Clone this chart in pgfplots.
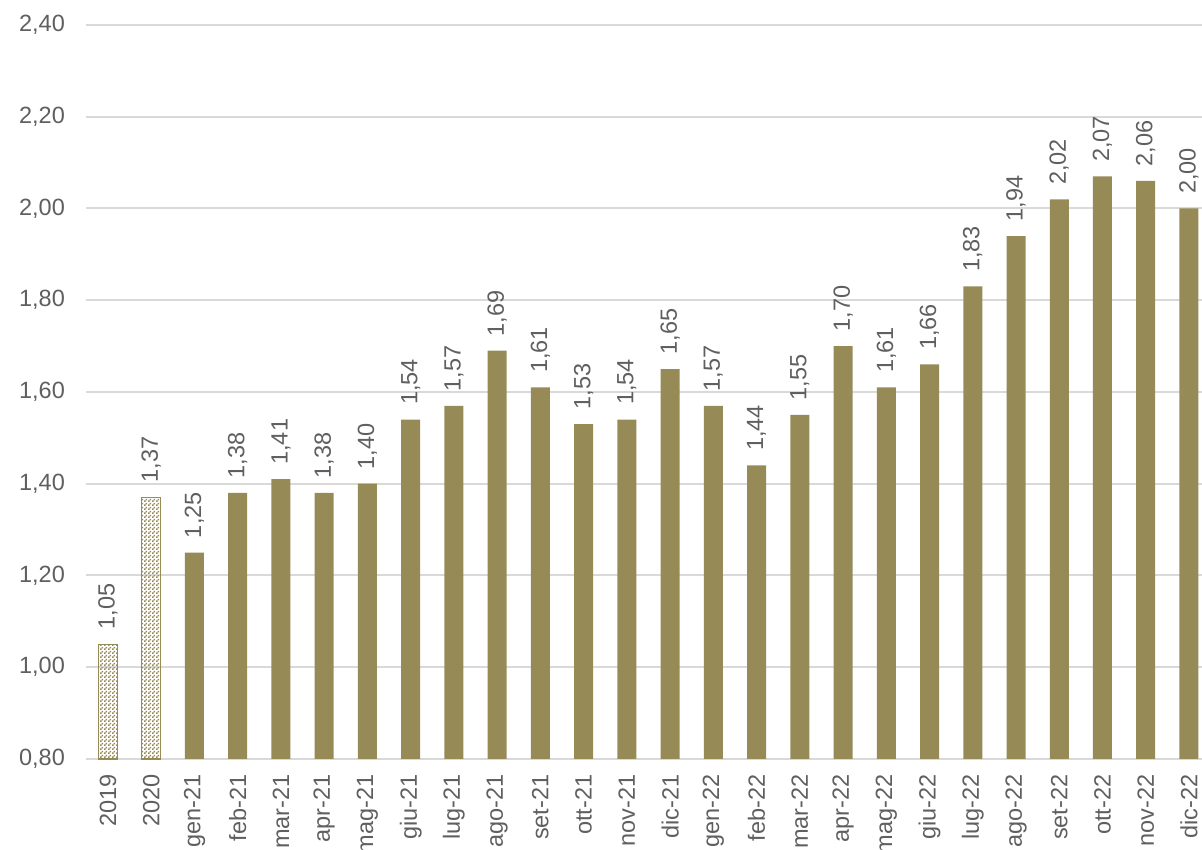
\documentclass[border=0pt]{standalone}
\usepackage{pgfplots}
\pgfplotsset{compat=1.18}
\usetikzlibrary{patterns}
\usepackage{fontspec}
\setmainfont{Liberation Sans}
\definecolor{olive}{HTML}{968B56}
\definecolor{txt}{HTML}{5F5F5F}
\definecolor{gridc}{HTML}{D9D9D9}
\pgfdeclarepatternformonly{finecheck}{\pgfqpoint{0pt}{0pt}}{\pgfqpoint{4pt}{4pt}}{\pgfqpoint{4pt}{4pt}}{%
  \pgfpathrectangle{\pgfqpoint{0pt}{0pt}}{\pgfqpoint{2pt}{2pt}}%
  \pgfpathrectangle{\pgfqpoint{2pt}{2pt}}{\pgfqpoint{2pt}{2pt}}%
  \pgfusepath{fill}}
\begin{document}
\begin{tikzpicture}
\useasboundingbox (0,0) rectangle (1202pt,850pt);
\clip (0,0) rectangle (1202pt,850pt);
\begin{axis}[
  at={(86.4pt,91pt)}, anchor=south west,
  scale only axis, width=1124.2pt, height=734pt,
  xmin=-0.5, xmax=25.5, ymin=0.8, ymax=2.4,
  ytick={0.8,1.0,...,2.4},
  xtick={0,...,25},
  xticklabels={2019,2020,gen-21,feb-21,mar-21,apr-21,mag-21,giu-21,lug-21,ago-21,set-21,ott-21,nov-21,dic-21,gen-22,feb-22,mar-22,apr-22,mag-22,giu-22,lug-22,ago-22,set-22,ott-22,nov-22,dic-22},
  axis line style={draw=none},
  major tick length=0pt,
  ymajorgrids, grid style={color=gridc, line width=2pt},
  /pgf/number format/.cd, fixed, fixed zerofill, precision=2, use comma, assume math mode=true,
  /pgfplots/.cd,
  tick label style={font=\fontsize{23.5}{27}\selectfont, text=txt},
  yticklabel style={xshift=-18pt},
  xticklabel style={rotate=90, anchor=east, xshift=-12pt},
  ybar, bar width=19pt, bar shift=0pt,
  nodes near coords,
  every node near coord/.append style={font=\fontsize{23.5}{27}\selectfont, text=txt, rotate=90, anchor=west, xshift=11pt},
  clip=false,
]
\addplot[draw=olive, line width=1.2pt, pattern=finecheck, pattern color=olive] coordinates {(0,1.05) (1,1.37)};
\addplot[draw=none, fill=olive] coordinates {
(2,1.25) (3,1.38) (4,1.41) (5,1.38) (6,1.40) (7,1.54) (8,1.57) (9,1.69) (10,1.61) (11,1.53) (12,1.54) (13,1.65)
(14,1.57) (15,1.44) (16,1.55) (17,1.70) (18,1.61) (19,1.66) (20,1.83) (21,1.94) (22,2.02) (23,2.07) (24,2.06) (25,2.00)};
\end{axis}
\end{tikzpicture}
\end{document}
